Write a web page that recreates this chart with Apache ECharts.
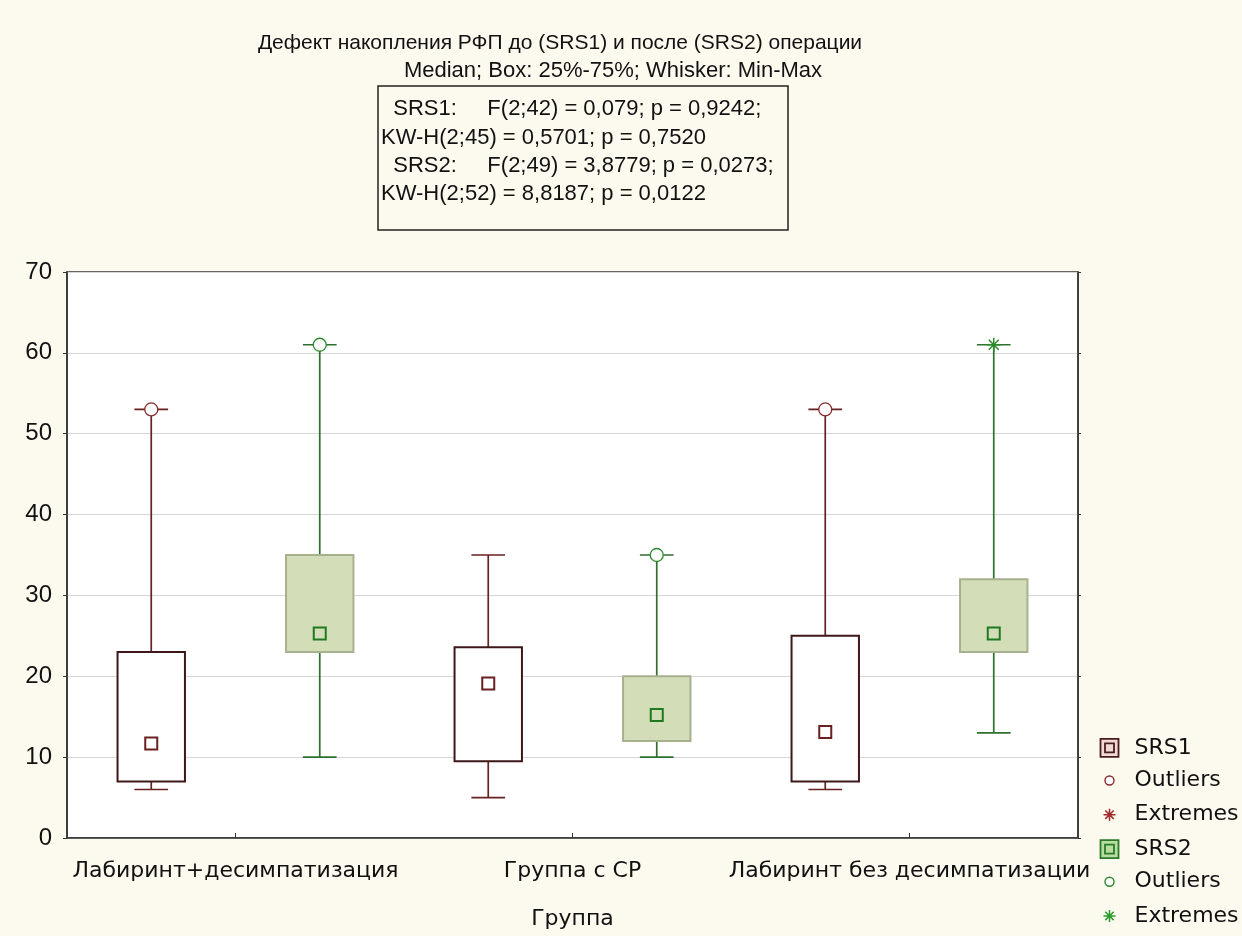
<!DOCTYPE html>
<html>
<head>
<meta charset="utf-8">
<script src="https://cdn.jsdelivr.net/npm/echarts@6/dist/echarts.min.js"></script>
<style>
html,body{margin:0;padding:0;background:#fcf9ef;}
#chart{width:1242px;height:936px;}
</style>
</head>
<body>
<div id="chart"></div>
<script>
// ---- data ----
const categories = ['Лабиринт+десимпатизация', 'Группа с СР', 'Лабиринт без десимпатизации'];
const yTicks = [0, 10, 20, 30, 40, 50, 60, 70];

const srs1Min    = [6, 5, 6];
const srs1Q1     = [7, 9.5, 7];
const srs1Median = [11.7, 19.1, 13.1];
const srs1Q3     = [23, 23.6, 25];
const srs1Max    = [53, 35, 53];
const srs1Outliers = [[0, 53], [2, 53]];
const srs1Extremes = [];

const srs2Min    = [10, 10, 13];
const srs2Q1     = [23, 12, 23];
const srs2Median = [25.3, 15.2, 25.3];
const srs2Q3     = [35, 20, 32];
const srs2Max    = [61, 35, 61];
const srs2Outliers = [[0, 61], [1, 35]];
const srs2Extremes = [[2, 61]];

const titleText = 'Дефект накопления РФП до (SRS1) и после (SRS2) операции';
const subtitleText = 'Median; Box: 25%-75%; Whisker: Min-Max';
const statsLines = [
  '  SRS1:     F(2;42) = 0,079; p = 0,9242;',
  'KW-H(2;45) = 0,5701; p = 0,7520',
  '  SRS2:     F(2;49) = 3,8779; p = 0,0273;',
  'KW-H(2;52) = 8,8187; p = 0,0122'
];
const xAxisName = 'Группа';

// ---- styles ----
const S1 = {whisker: '#6a2020', box: '#3e1818', boxFill: '#ffffff', median: '#6a2020', mark: '#8a2c2c'};
const S2 = {whisker: '#2f6f2f', box: '#a6b18e', boxFill: '#d3deb9', median: '#1f7a1f', mark: '#2a8a2a'};

function buildBoxData(mn, q1, md, q3, mx) {
  return categories.map((c, i) => [i, mn[i], q1[i], md[i], q3[i], mx[i]]);
}

function boxRenderer(side, st) {
  return function (params, api) {
    const i = api.value(0);
    const band = api.size([1, 0])[0];
    const x = api.coord([i, 0])[0] + side * band * 0.25;
    const w = band * 0.2;
    const cap = w / 2;
    const Y = v => api.coord([i, v])[1];
    const yMin = Y(api.value(1)), yQ1 = Y(api.value(2)), yMed = Y(api.value(3)),
          yQ3 = Y(api.value(4)), yMax = Y(api.value(5));
    const ls = {stroke: st.whisker, lineWidth: 1.7};
    return {
      type: 'group',
      children: [
        {type: 'line', shape: {x1: x, y1: yQ3, x2: x, y2: yMax}, style: ls},
        {type: 'line', shape: {x1: x, y1: yQ1, x2: x, y2: yMin}, style: ls},
        {type: 'line', shape: {x1: x - cap / 2, y1: yMax, x2: x + cap / 2, y2: yMax}, style: ls},
        {type: 'line', shape: {x1: x - cap / 2, y1: yMin, x2: x + cap / 2, y2: yMin}, style: ls},
        {type: 'rect', shape: {x: x - w / 2, y: yQ3, width: w, height: yQ1 - yQ3},
          style: {fill: st.boxFill, stroke: st.box, lineWidth: 2}},
        {type: 'rect', shape: {x: x - 6, y: yMed - 6, width: 12, height: 12},
          style: {fill: 'none', stroke: st.median, lineWidth: 2}}
      ]
    };
  };
}

function circleRenderer(side, st) {
  return function (params, api) {
    const i = api.value(0);
    const band = api.size([1, 0])[0];
    const p = api.coord([i, api.value(1)]);
    return {type: 'circle', shape: {cx: p[0] + side * band * 0.25, cy: p[1], r: 6.5},
      style: {fill: '#ffffff', stroke: st.mark, lineWidth: 1.3}, z2: 10};
  };
}

function starRenderer(side, st) {
  return function (params, api) {
    const i = api.value(0);
    const band = api.size([1, 0])[0];
    const p = api.coord([i, api.value(1)]);
    const cx = p[0] + side * band * 0.25, cy = p[1], r = 7;
    const d = r * 0.707;
    const ls = {stroke: st.mark, lineWidth: 1.5};
    return {type: 'group', children: [
      {type: 'line', shape: {x1: cx, y1: cy - r, x2: cx, y2: cy + r}, style: ls},
      {type: 'line', shape: {x1: cx - r, y1: cy, x2: cx + r, y2: cy}, style: ls},
      {type: 'line', shape: {x1: cx - d, y1: cy - d, x2: cx + d, y2: cy + d}, style: ls},
      {type: 'line', shape: {x1: cx - d, y1: cy + d, x2: cx + d, y2: cy - d}, style: ls}
    ]};
  };
}

// legend icons (bounding box 0..30 x 0..22 kept via move-to points)
const B = 'M0 0M30 22';
const iconBox = 'path://' + B + 'M1 2H19V20H1ZM5.5 6.5H14.5V15.5H5.5Z';
const iconCircle = 'path://' + B + 'M5.5 11A4.5 4.5 0 1 0 14.5 11A4.5 4.5 0 1 0 5.5 11Z';
const iconStar = 'path://' + B + 'M10 5V17M4 11H16M5.8 6.8L14.2 15.2M5.8 15.2L14.2 6.8';

const chart = echarts.init(document.getElementById('chart'), null, {renderer: 'canvas'});
const option = {
  backgroundColor: '#fcf9ef',
  animation: false,
  textStyle: {fontFamily: 'Liberation Sans'},
  graphic: [
    {type: 'text', x: 560, y: 43, style: {text: titleText, font: '21px "Liberation Sans"', fill: '#111', align: 'center', verticalAlign: 'middle'}},
    {type: 'text', x: 613, y: 71, style: {text: subtitleText, font: '22px "Liberation Sans"', fill: '#111', align: 'center', verticalAlign: 'middle'}},
    {type: 'rect', shape: {x: 378, y: 86, width: 410, height: 144}, style: {fill: 'none', stroke: '#222', lineWidth: 1.5}},
    {type: 'text', x: 381, y: 95, style: {text: statsLines.join('\n'), font: '22px "Liberation Sans"', lineHeight: 28.3, fill: '#111', align: 'left', verticalAlign: 'top'}}
  ],
  legend: {
    orient: 'vertical',
    left: 1097,
    top: 736,
    itemWidth: 30,
    itemHeight: 22,
    itemGap: 9,
    padding: 0,
    selectedMode: false,
    textStyle: {fontFamily: 'DejaVu Sans', fontSize: 22, color: '#111'},
    formatter: name => name.replace(/_\d$/, ''),
    data: [
      {name: 'SRS1', icon: iconBox, itemStyle: {color: '#f2d9d9', borderColor: '#4a1c1c', borderWidth: 1.8}},
      {name: 'Outliers_1', icon: iconCircle, itemStyle: {color: '#ffffff', borderColor: '#8a2c2c', borderWidth: 1.4}},
      {name: 'Extremes_1', icon: iconStar, itemStyle: {color: 'none', borderColor: '#a02a2a', borderWidth: 1.5}},
      {name: 'SRS2', icon: iconBox, itemStyle: {color: '#b9dca0', borderColor: '#2a7a2a', borderWidth: 1.8}},
      {name: 'Outliers_2', icon: iconCircle, itemStyle: {color: '#ffffff', borderColor: '#2a8a2a', borderWidth: 1.4}},
      {name: 'Extremes_2', icon: iconStar, itemStyle: {color: 'none', borderColor: '#2a9a2a', borderWidth: 1.5}}
    ]
  },
  grid: {
    left: 67, right: 164, top: 272, bottom: 98,
    show: true, backgroundColor: '#ffffff', borderColor: '#333', borderWidth: 1.5
  },
  xAxis: {
    type: 'category',
    data: categories,
    boundaryGap: true,
    name: xAxisName,
    nameLocation: 'middle',
    nameGap: 70,
    nameTextStyle: {fontFamily: 'DejaVu Sans', fontSize: 22, color: '#111'},
    axisLine: {show: true, lineStyle: {color: '#333', width: 1.5}},
    axisTick: {show: true, inside: true, alignWithLabel: true, length: 5, lineStyle: {color: '#333'}},
    axisLabel: {fontFamily: 'DejaVu Sans', fontSize: 22, color: '#111', margin: 22, interval: 0},
    splitLine: {show: false}
  },
  yAxis: [{
    type: 'value',
    min: yTicks[0],
    max: yTicks[yTicks.length - 1],
    interval: 10,
    axisLine: {show: true, lineStyle: {color: '#333', width: 1.5}},
    axisTick: {show: true, inside: false, length: 4, lineStyle: {color: '#333'}},
    axisLabel: {fontFamily: 'Liberation Sans', fontSize: 24, color: '#111', margin: 15},
    splitLine: {show: true, lineStyle: {color: '#d6d6d6', width: 1.2}}
  }, {
    type: 'value',
    position: 'right',
    min: yTicks[0],
    max: yTicks[yTicks.length - 1],
    interval: 10,
    axisLine: {show: true, lineStyle: {color: '#333', width: 1.5}},
    axisTick: {show: true, inside: false, length: 3, lineStyle: {color: '#333'}},
    axisLabel: {show: false},
    splitLine: {show: false}
  }],
  series: [
    {name: 'SRS1', type: 'custom', renderItem: boxRenderer(-1, S1), encode: {x: 0, y: [1, 2, 3, 4, 5]},
      data: buildBoxData(srs1Min, srs1Q1, srs1Median, srs1Q3, srs1Max), z: 2},
    {name: 'SRS2', type: 'custom', renderItem: boxRenderer(1, S2), encode: {x: 0, y: [1, 2, 3, 4, 5]},
      data: buildBoxData(srs2Min, srs2Q1, srs2Median, srs2Q3, srs2Max), z: 2},
    {name: 'Outliers_1', type: 'custom', renderItem: circleRenderer(-1, S1), encode: {x: 0, y: 1}, data: srs1Outliers, z: 3},
    {name: 'Extremes_1', type: 'custom', renderItem: starRenderer(-1, S1), encode: {x: 0, y: 1}, data: srs1Extremes, z: 3},
    {name: 'Outliers_2', type: 'custom', renderItem: circleRenderer(1, S2), encode: {x: 0, y: 1}, data: srs2Outliers, z: 3},
    {name: 'Extremes_2', type: 'custom', renderItem: starRenderer(1, S2), encode: {x: 0, y: 1}, data: srs2Extremes, z: 3}
  ]
};
chart.setOption(option);
</script>
</body>
</html>
